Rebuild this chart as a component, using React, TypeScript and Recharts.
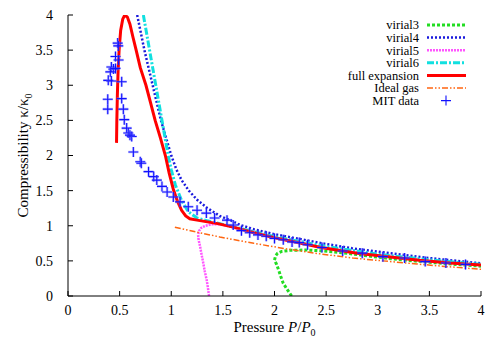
import React from 'react';
import { ComposedChart, Line, Scatter, XAxis, YAxis } from 'recharts';

const xTicks = [0, 0.5, 1, 1.5, 2, 2.5, 3, 3.5, 4];
const yTicks = [0, 0.5, 1, 1.5, 2, 2.5, 3, 3.5, 4];

const virial3: number[][] = [
  [2.166, 0], [2.12, 0.1], [2.085, 0.18], [2.06, 0.28], [2.04, 0.37], [2.02, 0.45], [2.0, 0.51],
  [2.01, 0.57], [2.03, 0.61], [2.07, 0.635], [2.15, 0.65], [2.3, 0.655], [2.44, 0.645], [2.63, 0.62],
  [2.8, 0.59], [2.96, 0.56], [3.2, 0.52], [3.5, 0.48], [3.75, 0.45], [4.0, 0.425],
];
const virial4: number[][] = [
  [0.67, 4.0], [0.705, 3.75], [0.74, 3.5], [0.78, 3.25], [0.82, 3.0], [0.86, 2.75], [0.9, 2.5],
  [0.95, 2.25], [1.0, 2.0], [1.05, 1.8], [1.1, 1.65], [1.17, 1.5], [1.25, 1.37], [1.35, 1.25],
  [1.47, 1.14], [1.6, 1.06], [1.67, 1.01], [1.8, 0.95], [2.0, 0.88], [2.25, 0.81], [2.5, 0.74],
  [2.75, 0.68], [3.0, 0.63], [3.5, 0.54], [4.0, 0.465],
];
const virial5: number[][] = [
  [1.366, 0], [1.355, 0.12], [1.343, 0.23], [1.325, 0.35], [1.31, 0.47], [1.295, 0.58], [1.28, 0.7],
  [1.265, 0.8], [1.26, 0.87], [1.27, 0.93], [1.29, 0.97], [1.33, 1.0], [1.39, 1.02], [1.47, 1.02],
  [1.6, 0.98], [1.8, 0.9], [2.0, 0.83], [2.5, 0.68], [3.0, 0.58], [3.5, 0.5], [4.0, 0.44],
];
const virial6: number[][] = [
  [0.73, 4.0], [0.76, 3.75], [0.79, 3.5], [0.82, 3.25], [0.85, 3.0], [0.88, 2.75], [0.91, 2.5],
  [0.94, 2.25], [0.97, 2.0], [1.0, 1.8], [1.04, 1.58], [1.1, 1.36], [1.165, 1.2], [1.25, 1.11],
  [1.35, 1.07], [1.5, 1.02], [1.7, 0.95], [2.0, 0.845], [2.5, 0.705], [3.0, 0.595], [3.5, 0.515],
  [4.0, 0.45],
];
const fullExpansion: number[][] = [
  [0.47, 2.18], [0.473, 2.5], [0.478, 2.85], [0.485, 3.2], [0.495, 3.5], [0.51, 3.78], [0.53, 3.94],
  [0.55, 4.0], [0.575, 3.97], [0.6, 3.87], [0.63, 3.68], [0.66, 3.5], [0.7, 3.25], [0.755, 3.0],
  [0.8, 2.75], [0.844, 2.5], [0.895, 2.25], [0.943, 2.0], [0.98, 1.75], [1.02, 1.52], [1.06, 1.35],
  [1.1, 1.22], [1.14, 1.14], [1.18, 1.1], [1.25, 1.08], [1.35, 1.055], [1.45, 1.03], [1.6, 0.98],
  [1.8, 0.9], [2.0, 0.83], [2.2, 0.77], [2.45, 0.69], [2.8, 0.61], [3.1, 0.56], [3.4, 0.51],
  [3.7, 0.47], [4.0, 0.44],
];
const idealGas: number[][] = [
  [1.035, 0.98], [1.2, 0.925], [1.47, 0.84], [1.8, 0.75], [2.12, 0.67], [2.44, 0.6], [2.76, 0.54],
  [3.05, 0.5], [3.38, 0.455], [3.7, 0.415], [4.0, 0.38],
];
const mitData: number[][] = [
  [0.481, 3.6], [0.487, 3.56], [0.46, 3.41], [0.49, 3.36], [0.42, 3.26], [0.44, 3.23], [0.41, 3.19],
  [0.46, 3.24], [0.39, 3.07], [0.42, 3.06], [0.52, 3.05], [0.385, 2.8], [0.385, 2.66], [0.52, 2.81],
  [0.536, 2.66], [0.545, 2.51], [0.568, 2.39], [0.584, 2.32], [0.617, 2.27], [0.6, 2.29],
  [0.633, 2.05], [0.7, 1.91], [0.71, 1.89], [0.78, 1.77], [0.83, 1.7], [0.86, 1.65], [0.91, 1.56],
  [0.96, 1.48], [1.02, 1.41], [1.085, 1.34], [1.165, 1.27], [1.25, 1.22], [1.34, 1.18], [1.42, 1.11],
  [1.54, 1.08], [1.6, 1.01], [1.68, 0.93], [1.76, 0.9], [1.84, 0.87], [1.92, 0.85], [2.0, 0.82],
  [2.085, 0.8], [2.17, 0.77], [2.24, 0.76], [2.32, 0.73], [2.46, 0.69], [2.66, 0.64], [2.85, 0.61],
  [3.05, 0.56], [3.26, 0.54], [3.46, 0.49], [3.66, 0.47], [3.85, 0.45],
];

const toPts = (a: number[][]) => a.map(([x, y]) => ({ x, y }));

const FONT = 'Liberation Serif';

const series = [
  { name: 'virial3', data: virial3, color: '#22dd22', width: 3, dash: '3 2' },
  { name: 'virial4', data: virial4, color: '#1a1add', width: 2.5, dash: '2 2' },
  { name: 'virial5', data: virial5, color: '#ff55ff', width: 2.5, dash: '2 1' },
  { name: 'virial6', data: virial6, color: '#11e0e0', width: 3, dash: '7 2 2 2' },
  { name: 'full expansion', data: fullExpansion, color: '#ff0000', width: 3, dash: undefined },
  { name: 'Ideal gas', data: idealGas, color: '#ff6611', width: 1.5, dash: '6 2 1.5 2 1.5 2' },
];

const plusPath = (cx: number, cy: number, r: number) => `M${cx - r},${cy}h${2 * r}M${cx},${cy - r}v${2 * r}`;

const Plus = (props: any) => {
  const { cx, cy } = props;
  if (cx == null || cy == null) return null;
  return (
    <g>
      <path d={plusPath(cx, cy, 5)} stroke="#7a7aff" strokeWidth={2.6} opacity={0.45} fill="none" />
      <path d={plusPath(cx, cy, 5)} stroke="#1010ff" strokeWidth={1.1} fill="none" />
    </g>
  );
};

const tickStyle = { fill: '#000', fontSize: 14, fontFamily: FONT };

export default function App() {
  const legendY0 = 25;
  const legendDy = 12.6;
  return (
    <div style={{ position: 'absolute', left: 0, top: 0, width: 500, height: 350, background: '#fff', fontFamily: FONT }}>
      <ComposedChart width={500} height={350} margin={{ top: 15, right: 19, bottom: 0, left: 0 }}>
        <XAxis
          type="number"
          dataKey="x"
          domain={[0, 4]}
          ticks={xTicks}
          allowDataOverflow
          orientation="bottom"
          height={54}
          tickSize={-5}
          tickMargin={14}
          stroke="#000"
          tick={tickStyle}
          fontFamily={FONT}
          interval={0}
        />
        <XAxis
          xAxisId="top"
          type="number"
          dataKey="x"
          domain={[0, 4]}
          ticks={xTicks}
          allowDataOverflow
          orientation="top"
          height={0}
          tickSize={-5}
          stroke="#000"
          tickFormatter={() => ''}
          interval={0}
        />
        <YAxis
          type="number"
          dataKey="y"
          domain={[0, 4]}
          ticks={yTicks}
          allowDataOverflow
          orientation="left"
          width={68}
          tickSize={-5}
          tickMargin={20}
          stroke="#000"
          tick={tickStyle}
          fontFamily={FONT}
          interval={0}
        />
        <YAxis
          yAxisId="right"
          type="number"
          dataKey="y"
          domain={[0, 4]}
          ticks={yTicks}
          allowDataOverflow
          orientation="right"
          width={0}
          tickSize={-5}
          stroke="#000"
          tickFormatter={() => ''}
          interval={0}
        />
        {series.map((s) => (
          <Line
            key={s.name}
            data={toPts(s.data)}
            dataKey="y"
            type="linear"
            stroke={s.color}
            strokeWidth={s.width}
            strokeDasharray={s.dash}
            dot={false}
            activeDot={false}
            isAnimationActive={false}
          />
        ))}
        <Scatter data={toPts(mitData)} dataKey="y" shape={<Plus />} isAnimationActive={false} />
      </ComposedChart>
      <svg
        width={500}
        height={350}
        style={{ position: 'absolute', left: 0, top: 0, pointerEvents: 'none' }}
      >
        {series.map((s, i) => {
          const y = legendY0 + i * legendDy;
          return (
            <g key={s.name}>
              <text x={419} y={y + 4.3} fontSize={12.5} fontFamily={FONT} textAnchor="end" fill="#000">
                {s.name}
              </text>
              <line x1={427} x2={466} y1={y} y2={y} stroke={s.color} strokeWidth={s.width} strokeDasharray={s.dash} />
            </g>
          );
        })}
        <text x={419} y={legendY0 + 6 * legendDy + 4.3} fontSize={12.5} fontFamily={FONT} textAnchor="end" fill="#000">
          MIT data
        </text>
        <path d={plusPath(446, legendY0 + 6 * legendDy, 5)} stroke="#1010ff" strokeWidth={1.1} fill="none" />
        <text x={274.5} y={332} fontSize={15} fontFamily={FONT} textAnchor="middle" fill="#000">
          Pressure <tspan fontStyle="italic">P</tspan>/<tspan fontStyle="italic">P</tspan>
          <tspan fontSize={10} dy={4}>0</tspan>
        </text>
        <text transform="translate(28,155.5) rotate(-90)" fontSize={15} fontFamily={FONT} textAnchor="middle" fill="#000">
          Compressibility κ/κ<tspan fontSize={10} dy={4}>0</tspan>
        </text>
      </svg>
    </div>
  );
}
